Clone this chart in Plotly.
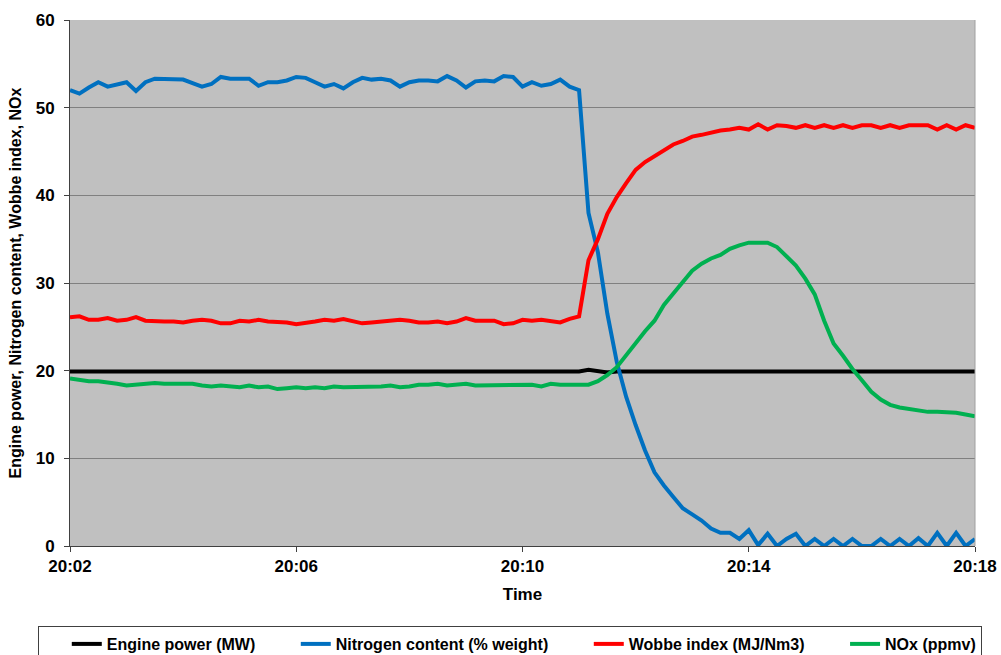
import plotly.graph_objects as go

# Sampling times (every 10 s)
times = [
    "20:02:00", "20:02:10", "20:02:20", "20:02:30", "20:02:40", "20:02:50",
    "20:03:00", "20:03:10", "20:03:20", "20:03:30", "20:03:40", "20:03:50",
    "20:04:00", "20:04:10", "20:04:20", "20:04:30", "20:04:40", "20:04:50",
    "20:05:00", "20:05:10", "20:05:20", "20:05:30", "20:05:40", "20:05:50",
    "20:06:00", "20:06:10", "20:06:20", "20:06:30", "20:06:40", "20:06:50",
    "20:07:00", "20:07:10", "20:07:20", "20:07:30", "20:07:40", "20:07:50",
    "20:08:00", "20:08:10", "20:08:20", "20:08:30", "20:08:40", "20:08:50",
    "20:09:00", "20:09:10", "20:09:20", "20:09:30", "20:09:40", "20:09:50",
    "20:10:00", "20:10:10", "20:10:20", "20:10:30", "20:10:40", "20:10:50",
    "20:11:00", "20:11:10", "20:11:20", "20:11:30", "20:11:40", "20:11:50",
    "20:12:00", "20:12:10", "20:12:20", "20:12:30", "20:12:40", "20:12:50",
    "20:13:00", "20:13:10", "20:13:20", "20:13:30", "20:13:40", "20:13:50",
    "20:14:00", "20:14:10", "20:14:20", "20:14:30", "20:14:40", "20:14:50",
    "20:15:00", "20:15:10", "20:15:20", "20:15:30", "20:15:40", "20:15:50",
    "20:16:00", "20:16:10", "20:16:20", "20:16:30", "20:16:40", "20:16:50",
    "20:17:00", "20:17:10", "20:17:20", "20:17:30", "20:17:40", "20:17:50",
    "20:18:00",
]

engine_power = [
    19.9, 19.9, 19.8, 19.9, 19.9, 19.9, 19.8, 19.9, 19.9, 19.9, 19.8, 19.9,
    19.9, 19.9, 19.8, 19.9, 19.9, 19.9, 19.9, 19.8, 19.9, 19.9, 19.9, 19.8,
    19.9, 19.9, 19.9, 19.8, 19.9, 19.9, 19.9, 19.9, 19.8, 19.9, 19.9, 19.9,
    19.8, 19.9, 19.9, 19.9, 19.9, 19.8, 19.9, 19.9, 19.9, 19.8, 19.9, 19.9,
    19.9, 19.8, 19.9, 19.9, 19.9, 19.9, 19.9, 20.1, 19.9, 19.8, 19.9, 19.9,
    19.9, 19.8, 19.9, 19.9, 19.9, 19.9, 19.8, 19.9, 19.9, 19.9, 19.8, 19.9,
    19.9, 19.9, 19.8, 19.9, 19.9, 19.9, 19.8, 19.9, 19.9, 19.9, 19.9, 19.8,
    19.9, 19.9, 19.9, 19.8, 19.9, 19.9, 19.9, 19.9, 19.8, 19.9, 19.9, 19.9,
    19.9,
]

nitrogen = [
    52.0, 51.6, 52.3, 52.9, 52.4, 52.7, 52.9, 51.9, 52.9, 53.3, 53.3, 53.3,
    53.2, 52.8, 52.4, 52.7, 53.5, 53.3, 53.3, 53.3, 52.5, 52.9, 52.9, 53.1,
    53.5, 53.4, 52.9, 52.4, 52.7, 52.2, 52.9, 53.4, 53.2, 53.3, 53.1, 52.4,
    52.9, 53.1, 53.1, 53.0, 53.6, 53.1, 52.3, 53.0, 53.1, 53.0, 53.6, 53.5,
    52.4, 52.9, 52.5, 52.7, 53.2, 52.4, 52.0, 38.0, 33.5, 26.5, 21.0, 17.0,
    13.8, 10.9, 8.4, 6.9, 5.6, 4.3, 3.6, 2.9, 2.0, 1.5, 1.5, 0.8,
    1.8, 0.1, 1.4, 0.0, 0.8, 1.4, 0.0, 0.8, 0.0, 0.8, 0.0, 0.8,
    0.0, 0.0, 0.8, 0.0, 0.8, 0.0, 0.9, 0.0, 1.5, 0.0, 1.5, 0.0,
    0.8,
]

wobbe = [
    26.1, 26.2, 25.8, 25.8, 26.0, 25.7, 25.8, 26.1, 25.7, 25.6, 25.6, 25.6,
    25.5, 25.7, 25.8, 25.7, 25.4, 25.4, 25.7, 25.6, 25.8, 25.6, 25.6, 25.5,
    25.3, 25.4, 25.6, 25.8, 25.7, 25.9, 25.6, 25.4, 25.5, 25.6, 25.6, 25.8,
    25.7, 25.5, 25.5, 25.6, 25.4, 25.6, 26.0, 25.7, 25.7, 25.7, 25.3, 25.4,
    25.8, 25.7, 25.8, 25.7, 25.5, 25.9, 26.2, 32.6, 35.0, 37.9, 39.8, 41.4,
    42.9, 43.8, 44.5, 45.2, 45.8, 46.2, 46.7, 46.9, 47.2, 47.4, 47.5, 47.7,
    47.5, 48.1, 47.5, 48.0, 47.9, 47.7, 48.0, 47.7, 48.0, 47.7, 48.0, 47.7,
    48.0, 48.0, 47.7, 48.0, 47.7, 48.0, 48.0, 48.0, 47.5, 48.0, 47.5, 48.0,
    47.7,
]

nox = [
    19.1, 18.9, 18.8, 18.8, 18.7, 18.5, 18.3, 18.4, 18.6, 18.6, 18.5, 18.5,
    18.4, 18.5, 18.3, 18.2, 18.3, 18.2, 18.1, 18.3, 18.1, 18.2, 17.9, 18.0,
    18.1, 18.0, 18.1, 18.0, 18.2, 18.1, 18.1, 18.1, 18.2, 18.2, 18.3, 18.1,
    18.2, 18.4, 18.4, 18.5, 18.3, 18.4, 18.5, 18.3, 18.3, 18.3, 18.4, 18.4,
    18.3, 18.4, 18.2, 18.5, 18.4, 18.4, 18.3, 18.4, 18.8, 19.5, 20.4, 21.8,
    23.2, 24.5, 25.7, 27.5, 28.8, 30.1, 31.4, 32.2, 32.8, 33.2, 33.9, 34.3,
    34.6, 34.6, 34.6, 34.1, 33.0, 32.0, 30.5, 28.7, 25.7, 23.1, 21.7, 20.2,
    18.9, 17.6, 16.7, 16.1, 15.8, 15.6, 15.5, 15.3, 15.3, 15.3, 15.2, 15.0,
    14.8,
]

series_names = [
    "Engine power (MW)",
    "Nitrogen content (% weight)",
    "Wobbe index (MJ/Nm3)",
    "NOx (ppmv)",
]
series_colors = ["#000000", "#0070C0", "#FF0000", "#00B050"]

tick_labels = ["20:02", "20:06", "20:10", "20:14", "20:18"]
y_ticks = [0, 10, 20, 30, 40, 50, 60]

DAY = "2000-01-01 "
x = [DAY + t for t in times]

FONT = "Liberation Sans, Arial, sans-serif"
PAD = "\u00a0" * 8

fig = go.Figure()
series_values = [engine_power, nitrogen, wobbe, nox]
for i, (name, vals, col) in enumerate(zip(series_names, series_values, series_colors)):
    label = name + (PAD if i < len(series_names) - 1 else "")
    fig.add_trace(go.Scatter(
        x=x, y=vals, mode="lines", name=label,
        line=dict(color=col, width=4),
    ))

fig.update_layout(
    width=1001, height=655,
    margin=dict(l=70, r=26, t=20, b=109, autoexpand=False),
    paper_bgcolor="white",
    plot_bgcolor="#C0C0C0",
    font=dict(family=FONT, color="black"),
    showlegend=True,
    legend=dict(
        orientation="h",
        x=-32 / 905, y=-80 / 526, xanchor="left", yanchor="top",
        bordercolor="#404040", borderwidth=1,
        font=dict(size=16, family=FONT, weight="bold", color="black"),
        itemwidth=30,
        title=dict(text="\u00a0" * 4, font=dict(size=16)),
    ),
    xaxis=dict(
        type="date",
        range=[DAY + "20:02:00", DAY + "20:18:00"],
        tickvals=[DAY + t + ":00" for t in tick_labels],
        ticktext=tick_labels,
        showgrid=False,
        showline=True, linecolor="#404040", linewidth=1,
        ticks="outside", ticklen=5, tickcolor="#404040",
        ticklabelstandoff=0,
        tickfont=dict(size=17, family=FONT, weight="bold", color="black"),
        title=dict(text="Time", font=dict(size=17, family=FONT, weight="bold", color="black"),
                   standoff=12),
        zeroline=False,
        automargin=False,
    ),
    yaxis=dict(
        range=[0, 60],
        tickvals=y_ticks,
        showgrid=True, gridcolor="#808080", gridwidth=1,
        showline=True, linecolor="#404040", linewidth=1,
        ticks="outside", ticklen=5, tickcolor="#404040",
        ticklabelstandoff=6,
        tickfont=dict(size=17, family=FONT, weight="bold", color="black"),
        title=dict(text="Engine power, Nitrogen content, Wobbe index, NOx",
                   font=dict(size=16, family=FONT, weight="bold", color="black"),
                   standoff=10),
        zeroline=False,
        automargin=False,
    ),
    shapes=[dict(type="line", xref="paper", yref="paper", x0=1, x1=1, y0=0, y1=1,
                 line=dict(color="#A0A0A0", width=1))],
)

fig.write_html(
    "out.html",
    config={"displayModeBar": False},
    post_script="document.body.style.margin='0';document.body.style.overflow='hidden';",
)
